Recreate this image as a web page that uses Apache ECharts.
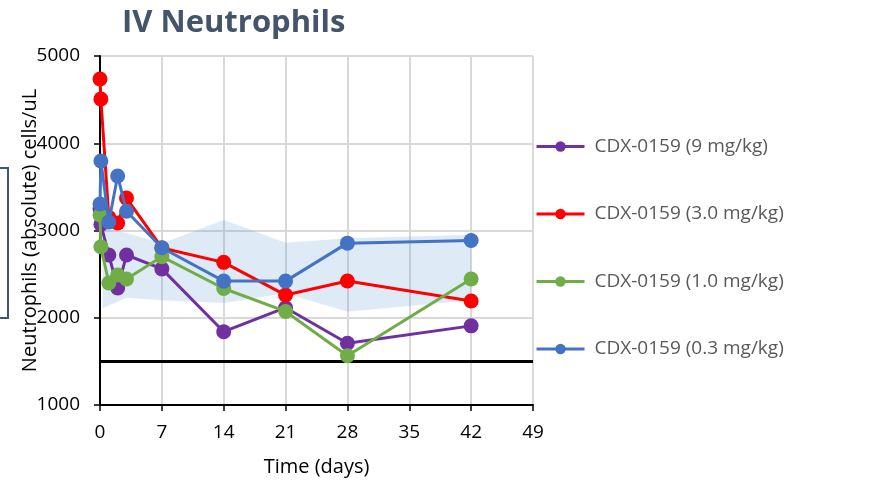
<!DOCTYPE html>
<html>
<head>
<meta charset="utf-8">
<script src="https://cdn.jsdelivr.net/npm/echarts@6/dist/echarts.min.js"></script>
<style>html,body{margin:0;padding:0;background:#fff;}#c{width:891px;height:480px;}</style>
</head>
<body>
<div id="c"></div>
<script>
// ---- data ----
const days = [0, 0.1, 1, 2, 3, 7, 14, 21, 28, 42];
const purple9 = [3250, 3070, 2719, 2341, 2719, 2560, 1840, 2115, 1707, 1907];
const red3 = [4736, 4507, 3150, 3086, 3372, 2800, 2635, 2260, 2421, 2192];
const green1 = [3178, 2814, 2398, 2490, 2444, 2700, 2335, 2072, 1565, 2444];
const blue03 = [3304, 3797, 3097, 3625, 3220, 2802, 2420, 2420, 2855, 2886];
const seriesNames = ['CDX-0159 (9 mg/kg)', 'CDX-0159 (3.0 mg/kg)', 'CDX-0159 (1.0 mg/kg)', 'CDX-0159 (0.3 mg/kg)'];
const bandDays = [0.3, 3, 7, 14, 21, 28, 42];
const bandLow = [2110, 2230, 2200, 2170, 2280, 2070, 2200];
const bandHigh = [3030, 2970, 2850, 3120, 2860, 2910, 2950];
const threshold = 1500;
const xTicks = [0, 49, 7];   // min, max, interval
const yTicks = [1000, 5000, 1000];

const FONT = 'Open Sans';
const pair = (xs, ys) => xs.map((x, i) => [x, ys[i]]);
const colors = ['#7030a0', '#ff0000', '#70ad47', '#4472c4'];
const vals = [purple9, red3, green1, blue03];

const chart = echarts.init(document.getElementById('c'), null, {renderer: 'canvas'});
const lineSeries = vals.map((v, i) => ({
  name: seriesNames[i],
  type: 'line',
  data: pair(days, v),
  symbol: 'circle',
  symbolSize: 15,
  color: colors[i],
  lineStyle: {width: 3, color: colors[i]},
  itemStyle: {color: colors[i]},
  z: 5 + i,
  emphasis: {disabled: true},
  animation: false
}));
lineSeries[0].markLine = {
  silent: true, symbol: 'none', animation: false,
  label: {show: false},
  lineStyle: {color: '#000', width: 3, type: 'solid'},
  data: [{yAxis: threshold}]
};

const bandSeries = {
  type: 'custom',
  name: 'band',
  silent: true,
  z: 1,
  data: bandDays.map((d, i) => [d, bandLow[i], bandHigh[i]]),
  renderItem: function (params, api) {
    if (params.dataIndex !== 0) return null;
    const pts = [];
    for (let i = 0; i < bandDays.length; i++) pts.push(api.coord([bandDays[i], bandHigh[i]]));
    for (let i = bandDays.length - 1; i >= 0; i--) pts.push(api.coord([bandDays[i], bandLow[i]]));
    return {
      type: 'polygon',
      shape: {points: pts},
      style: {fill: 'rgba(91,155,213,0.2)', stroke: 'none'}
    };
  },
  encode: {x: 0, y: [1, 2]}
};

chart.setOption({
  animation: false,
  textStyle: {fontFamily: FONT},
  title: {
    text: 'IV Neutrophils', left: 117, top: 3,
    textStyle: {fontFamily: FONT, fontSize: 31, fontWeight: 'bold', color: '#44546a'}
  },
  grid: {left: 100, right: 358, top: 56, bottom: 75, containLabel: false, outerBoundsMode: 'none'},
  xAxis: {
    type: 'value', min: xTicks[0], max: xTicks[1], interval: xTicks[2],
    name: 'Time (days)', nameLocation: 'middle', nameGap: 52,
    nameTextStyle: {fontFamily: FONT, fontSize: 20, color: '#000'},
    axisLine: {show: true, onZero: false, lineStyle: {color: '#000', width: 2}},
    axisTick: {show: true, length: 6, lineStyle: {color: '#000', width: 1.5}},
    axisLabel: {fontFamily: FONT, fontSize: 19, color: '#000', margin: 18},
    splitLine: {show: true, lineStyle: {color: '#d9d9d9', width: 2}}
  },
  yAxis: {
    type: 'value', min: yTicks[0], max: yTicks[1], interval: yTicks[2],
    name: 'Neutrophils (absolute) cells/uL', nameLocation: 'middle', nameGap: 60,
    nameMoveOverlap: false,
    nameTextStyle: {fontFamily: FONT, fontSize: 20, color: '#000'},
    axisLine: {show: true, lineStyle: {color: '#000', width: 2}},
    axisTick: {show: true, length: 6, lineStyle: {color: '#000', width: 1.5}},
    axisLabel: {fontFamily: FONT, fontSize: 19, color: '#000', margin: 20, formatter: v => String(v)},
    splitLine: {show: true, lineStyle: {color: '#d9d9d9', width: 2}}
  },
  legend: {
    data: seriesNames,
    orient: 'vertical', left: 535, top: 137, padding: 0,
    itemWidth: 48, itemHeight: 13, itemGap: 48.5,
    lineStyle: {width: 3},
    textStyle: {fontFamily: FONT, fontSize: 19, color: '#595959', padding: [0, 0, 0, 5]},
    selectedMode: false
  },
  graphic: [{
    type: 'rect', shape: {x: -20, y: 168, width: 28, height: 150},
    style: {fill: 'none', stroke: '#44546a', lineWidth: 2}, silent: true
  }],
  series: [bandSeries, ...lineSeries]
});
</script>
</body>
</html>
